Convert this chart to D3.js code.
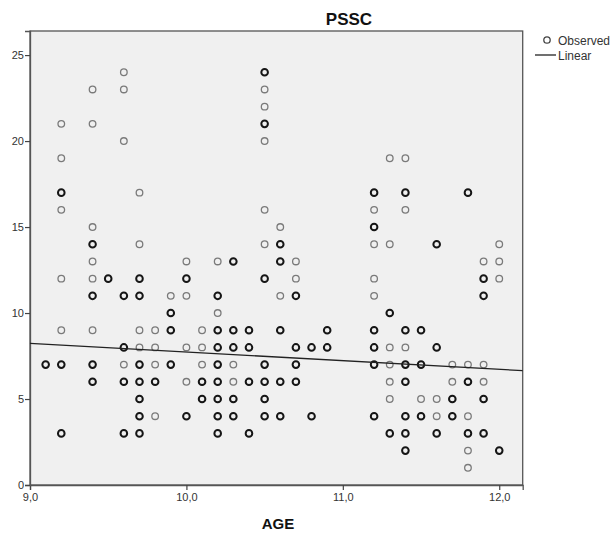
<!DOCTYPE html>
<html><head><meta charset="utf-8">
<script src="https://cdn.jsdelivr.net/npm/d3@7"></script>
<style>body{margin:0;background:#fff;} text{font-family:Arial,"Liberation Sans",sans-serif;}</style>
</head><body><svg id="c" width="613" height="536"></svg>
<script>
// Ages (x columns) and observed PSSC scores at each age; counts >1 mark overlapping observations
const ages = [9.1, 9.2, 9.4, 9.5, 9.6, 9.7, 9.8, 9.9, 10.0, 10.1, 10.2, 10.3, 10.4, 10.5, 10.6, 10.7, 10.8, 10.9, 11.2, 11.3, 11.4, 11.5, 11.6, 11.7, 11.8, 11.9, 12.0];
const scoresByAge = [
  [7],
  [21,19,17,16,12,9,7,3],
  [23,21,15,14,13,12,11,9,7,6],
  [12],
  [24,23,20,11,8,7,6,3],
  [17,14,12,11,9,8,7,6,5,4,3],
  [9,8,7,6,4],
  [11,10,9,7],
  [13,12,11,8,6,4],
  [9,8,7,6,5],
  [13,11,10,9,8,7,6,5,4,3],
  [13,9,8,7,6,5,4],
  [9,8,6,3],
  [24,23,22,21,20,16,14,12,7,6,5,4],
  [15,14,13,11,9,6,4],
  [13,12,11,8,7,6],
  [8,4],
  [9,8],
  [17,16,15,14,12,11,9,8,7,4],
  [19,14,10,8,7,6,5,3],
  [19,17,16,9,8,7,6,4,3,2],
  [9,7,5,4],
  [14,8,5,4,3],
  [7,6,5,4],
  [17,7,6,4,3,2,1],
  [13,12,11,7,6,5,3],
  [14,13,12,2]
];
const countsByAge = [
  [2],
  [1,1,2,1,1,1,2,2],
  [1,1,1,2,1,1,2,1,2,2],
  [2],
  [1,1,1,2,2,1,2,2],
  [1,1,2,2,1,1,2,2,2,2,2],
  [1,1,1,2,1],
  [1,2,2,2],
  [1,2,1,1,1,2],
  [1,1,1,2,2],
  [1,2,1,2,2,2,2,2,2,2],
  [2,2,2,1,1,2,2],
  [2,2,2,2],
  [2,1,1,2,1,1,1,2,2,2,2,2],
  [1,2,2,1,2,2,2],
  [1,1,2,2,2,2],
  [2,2],
  [2,2],
  [2,1,2,1,1,1,2,2,2,2],
  [1,1,2,1,1,1,1,2],
  [1,2,1,2,1,2,2,2,2,2],
  [2,2,1,2],
  [2,2,1,1,2],
  [1,1,2,2],
  [2,1,2,1,2,1,1],
  [1,2,2,1,1,2,2],
  [1,1,1,2]
];
// Linear fit
const fitIntercept = 12.785;
const fitSlope = -0.505;
const xTicks = [9, 10, 11, 12];
const yTicks = [0, 5, 10, 15, 20, 25];

const svg = d3.select("#c");
const x = d3.scaleLinear().domain([9.0, 12.15]).range([30, 522.7]);
const y = d3.scaleLinear().domain([0, 26.4]).range([485, 31]);

svg.append("rect").attr("x", x.range()[0]).attr("y", y.range()[1])
  .attr("width", x.range()[1]-x.range()[0]).attr("height", y.range()[0]-y.range()[1])
  .attr("fill", "#f0f0f0").attr("stroke", "#555").attr("stroke-width", 1.3);

const fmt = d => d3.format(".1f")(d).replace(".", ",");
const gx = svg.append("g").attr("transform", `translate(0,${y.range()[0]})`)
  .call(d3.axisBottom(x).tickValues(xTicks).tickFormat(fmt).tickSize(5).tickPadding(3));
const gy = svg.append("g").attr("transform", `translate(${x.range()[0]},0)`)
  .call(d3.axisLeft(y).tickValues(yTicks).tickSize(5).tickPadding(1));
[gx, gy].forEach(g => {
  g.select(".domain").attr("stroke", "#555").attr("stroke-width", 1.3);
  g.selectAll(".tick line").attr("stroke", "#444").attr("stroke-width", 1.2);
  g.selectAll(".tick text").attr("fill", "#333").style("font-size", "11px").style("font-family", "Arial, 'Liberation Sans', sans-serif");
});

// points
const pts = [];
ages.forEach((a, i) => scoresByAge[i].forEach((s, j) => pts.push({a, s, n: countsByAge[i][j]})));
svg.append("g").selectAll("circle").data(pts).join("circle")
  .attr("cx", d => x(d.a)).attr("cy", d => y(d.s)).attr("r", 3.3)
  .attr("fill", "none")
  .attr("stroke", d => d.n > 1 ? "#151515" : "#7a7a7a")
  .attr("stroke-width", d => d.n > 1 ? 2.0 : 1.3);

// fit line
const xd = x.domain();
svg.append("line")
  .attr("x1", x(xd[0])).attr("y1", y(fitIntercept + fitSlope*xd[0]))
  .attr("x2", x(xd[1])).attr("y2", y(fitIntercept + fitSlope*xd[1]))
  .attr("stroke", "#222").attr("stroke-width", 1.3);

// titles
svg.append("text").attr("x", 349).attr("y", 25).attr("text-anchor", "middle")
  .style("font-size", "17px").style("font-weight", "bold").attr("fill", "#111").text("PSSC");
svg.append("text").attr("x", 278).attr("y", 529).attr("text-anchor", "middle")
  .style("font-size", "15px").style("font-weight", "bold").attr("fill", "#111").text("AGE");

// legend
const lg = svg.append("g");
lg.append("circle").attr("cx", 547).attr("cy", 40).attr("r", 3.2).attr("fill", "none").attr("stroke", "#444").attr("stroke-width", 1.3);
lg.append("text").attr("x", 558).attr("y", 44.5).style("font-size", "12px").attr("fill", "#333").text("Observed");
lg.append("line").attr("x1", 535).attr("x2", 556).attr("y1", 55).attr("y2", 55).attr("stroke", "#222").attr("stroke-width", 1.3);
lg.append("text").attr("x", 558).attr("y", 59.5).style("font-size", "12px").attr("fill", "#333").text("Linear");
</script></body></html>
